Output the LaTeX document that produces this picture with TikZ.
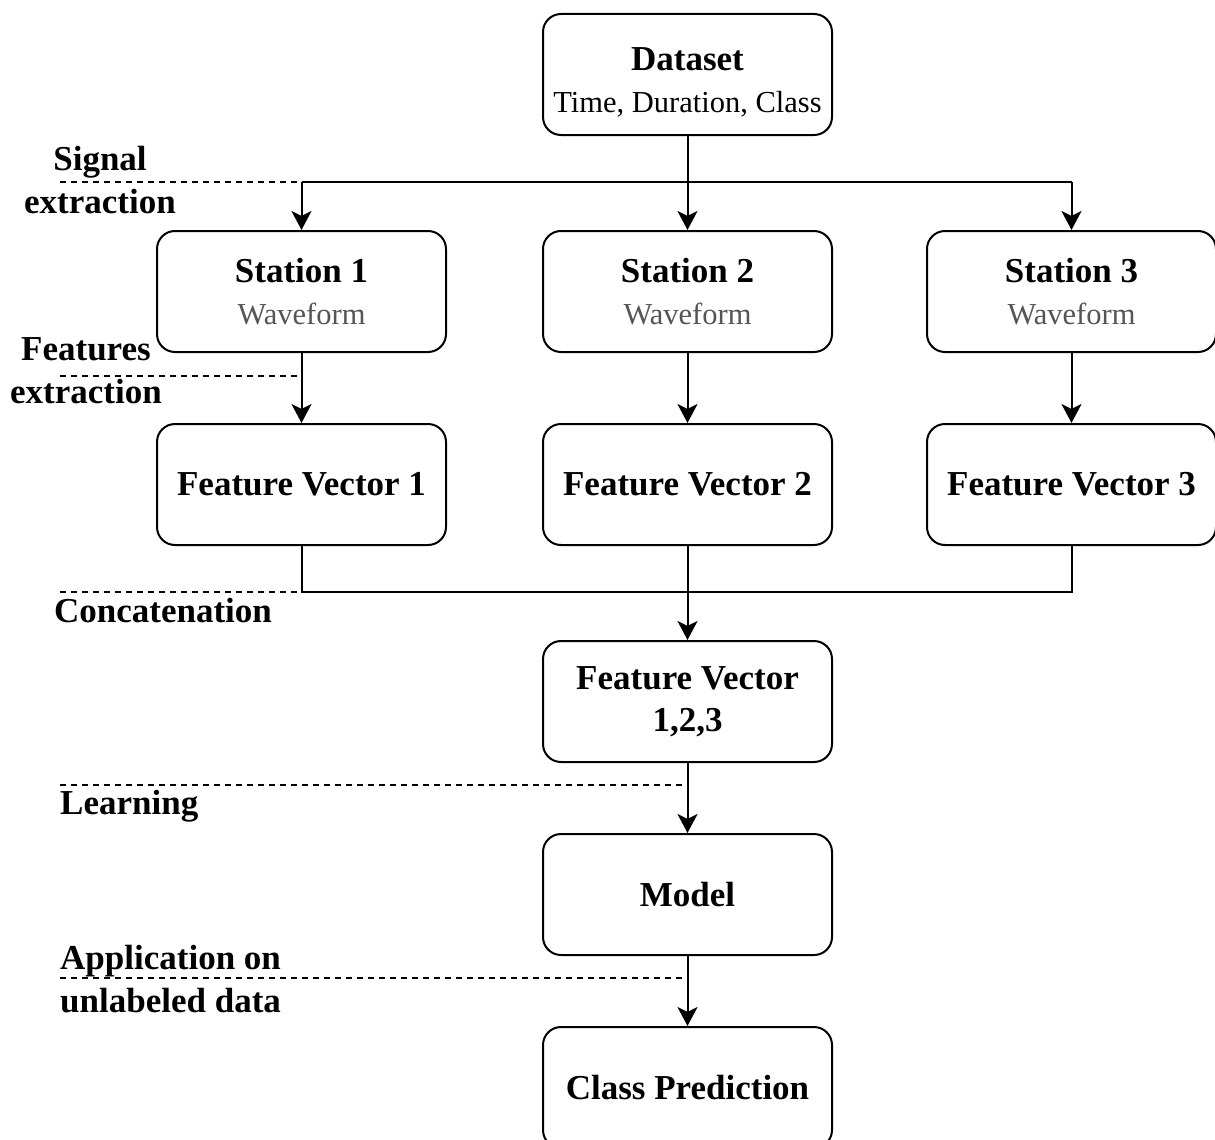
\documentclass[tikz,border=0pt]{standalone}
\usepackage{fontspec}
\setmainfont{Liberation Serif}
\usetikzlibrary{arrows.meta}
\definecolor{subgray}{RGB}{85,85,85}
\tikzset{
  box/.style={draw, line width=2pt, rounded corners=18pt, minimum width=289pt, minimum height=121pt, align=center, inner sep=0pt,
    font=\fontsize{35}{42}\selectfont\bfseries},
  conn/.style={line width=2pt},
  arr/.style={conn, -{Stealth[length=19pt, width=20pt, inset=5pt]}},
  sep/.style={line width=1.5pt, dash pattern=on 6pt off 5pt},
  lbl/.style={inner sep=0pt, font=\fontsize{35}{43}\selectfont\bfseries}
}
\begin{document}
\begin{tikzpicture}[x=1pt,y=-1pt]
\useasboundingbox (0,0) rectangle (1215,1140);
\clip (0,0) rectangle (1215,1140);
% nodes
\node[box, text depth=4pt] (ds) at (687.5,74.5) {\rule{0pt}{38pt}Dataset\\{\mdseries\fontsize{30.5}{42}\selectfont Time, Duration, Class}};
\node[box] (st1) at (301.5,291.5) {Station 1\\{\mdseries\fontsize{30.5}{42}\selectfont\color{subgray}Waveform}};
\node[box] (st2) at (687.5,291.5) {Station 2\\{\mdseries\fontsize{30.5}{42}\selectfont\color{subgray}Waveform}};
\node[box] (st3) at (1071.5,291.5) {Station 3\\{\mdseries\fontsize{30.5}{42}\selectfont\color{subgray}Waveform}};
\node[box] (fv1) at (301.5,484.5) {Feature Vector 1};
\node[box] (fv2) at (687.5,484.5) {Feature Vector 2};
\node[box] (fv3) at (1071.5,484.5) {Feature Vector 3};
\node[box] (fva) at (687.5,701.5) {Feature Vector\\1,2,3};
\node[box] (mdl) at (687.5,894.5) {Model};
\node[box] (cp) at (687.5,1087.5) {Class Prediction};
% coordinates
\coordinate (br1) at (301.5,182);
\coordinate (br3) at (1071.5,182);
\coordinate (fe) at (301.5,376);
\coordinate (j1) at (301.5,592);
\coordinate (j3) at (1071.5,592);
\coordinate (ln) at (687.5,785);
\coordinate (ap) at (687.5,978);
\coordinate (d1) at (60,182);
\coordinate (d2) at (60,376);
\coordinate (d3) at (60,592);
\coordinate (d4) at (60,785);
\coordinate (d5) at (60,978);
% connectors
\draw[arr] (ds.south) -- (st2.north);
\draw[conn] (br1) -- (br3);
\draw[arr] (br1) -- (st1.north);
\draw[arr] (br3) -- (st3.north);
\draw[arr] (st1.south) -- (fv1.north);
\draw[arr] (st2.south) -- (fv2.north);
\draw[arr] (st3.south) -- (fv3.north);
\draw[conn] (fv1.south) -- (j1) -- (j3) -- (fv3.south);
\draw[arr] (fv2.south) -- (fva.north);
\draw[arr] (fva.south) -- (mdl.north);
\draw[arr] (mdl.south) -- (cp.north);
% separators
\draw[sep] (d1) -- (br1);
\draw[sep] (d2) -- (fe);
\draw[sep] (d3) -- (j1);
\draw[sep] (d4) -- (ln);
\draw[sep] (d5) -- (ap);
% labels
\node[lbl, align=center] (l1) at (100,180) {Signal\\extraction};
\node[lbl, align=center] (l2) at (86,371) {Features\\extraction};
\node[lbl] (l3) at (163,611) {Concatenation};
\node[lbl, anchor=west] (l4) at (60,806) {Learning};
\node[lbl, anchor=west, align=left] (l5) at (60,979) {Application on\\unlabeled data};
\end{tikzpicture}
\end{document}
